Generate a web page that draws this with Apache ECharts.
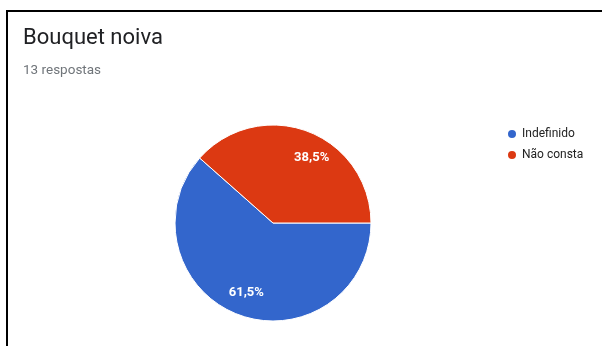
<!DOCTYPE html>
<html><head><meta charset="utf-8">
<script src="https://cdn.jsdelivr.net/npm/echarts@6/dist/echarts.min.js"></script>
<style>
html,body{margin:0;padding:0;background:#fff;}
#wrap{position:relative;width:602px;height:346px;overflow:hidden;}
#frame{position:absolute;left:6px;top:10px;width:700px;height:400px;border-left:2px solid #000;border-top:2px solid #000;box-sizing:border-box;pointer-events:none;}
#chart{position:absolute;left:0;top:0;width:602px;height:346px;}
</style></head>
<body><div id="wrap"><div id="chart"></div><div id="frame"></div></div>
<script>
const titleText = 'Bouquet noiva';
const subtitleText = '13 respostas';
const categories = ['Indefinido', 'Não consta'];
const counts = [8, 5];
const colors = ['#3366cc', '#dc3912'];

const total = counts.reduce((a, b) => a + b, 0);
const labelShift = [[1, -3], [11, 8]];
const pieData = categories.map((c, i) => ({ name: c, value: counts[i], itemStyle: { color: colors[i] } }));
const labelData = categories.map((c, i) => ({ name: c + ' ', value: counts[i], label: { offset: labelShift[i] } }));
const fmt = p => (p.value / total * 100).toFixed(1).replace('.', ',') + '%';

const chart = echarts.init(document.getElementById('chart'));
chart.setOption({
  animation: false,
  title: {
    text: titleText, subtext: subtitleText, left: 18, top: 22, itemGap: 15,
    textStyle: { fontFamily: 'Roboto', fontSize: 22, fontWeight: 'normal', color: '#202124' },
    subtextStyle: { fontFamily: 'Roboto', fontSize: 13.5, color: '#70757a' }
  },
  legend: {
    orient: 'vertical', left: 501, top: 123, icon: 'circle', itemWidth: 10, itemHeight: 10, itemGap: 9,
    data: categories,
    textStyle: { fontFamily: 'Roboto', fontSize: 12, color: '#222' }
  },
  series: [
    {
      type: 'pie', center: [273, 223], radius: [0, 98], startAngle: 0, clockwise: true,
      data: pieData, label: { show: false }, labelLine: { show: false },
      itemStyle: { borderColor: '#fff', borderWidth: 1 }, emphasis: { disabled: true }
    },
    {
      type: 'pie', center: [273, 223], radius: [52, 98], startAngle: 0, clockwise: true, silent: true,
      legendHoverLink: false,
      data: labelData,
      itemStyle: { color: 'rgba(0,0,0,0)' },
      label: { show: true, position: 'inside', formatter: fmt, fontFamily: 'Roboto', fontSize: 13, fontWeight: 'bold', color: '#fff' },
      labelLine: { show: false }, emphasis: { disabled: true }
    }
  ]
});
</script></body></html>
